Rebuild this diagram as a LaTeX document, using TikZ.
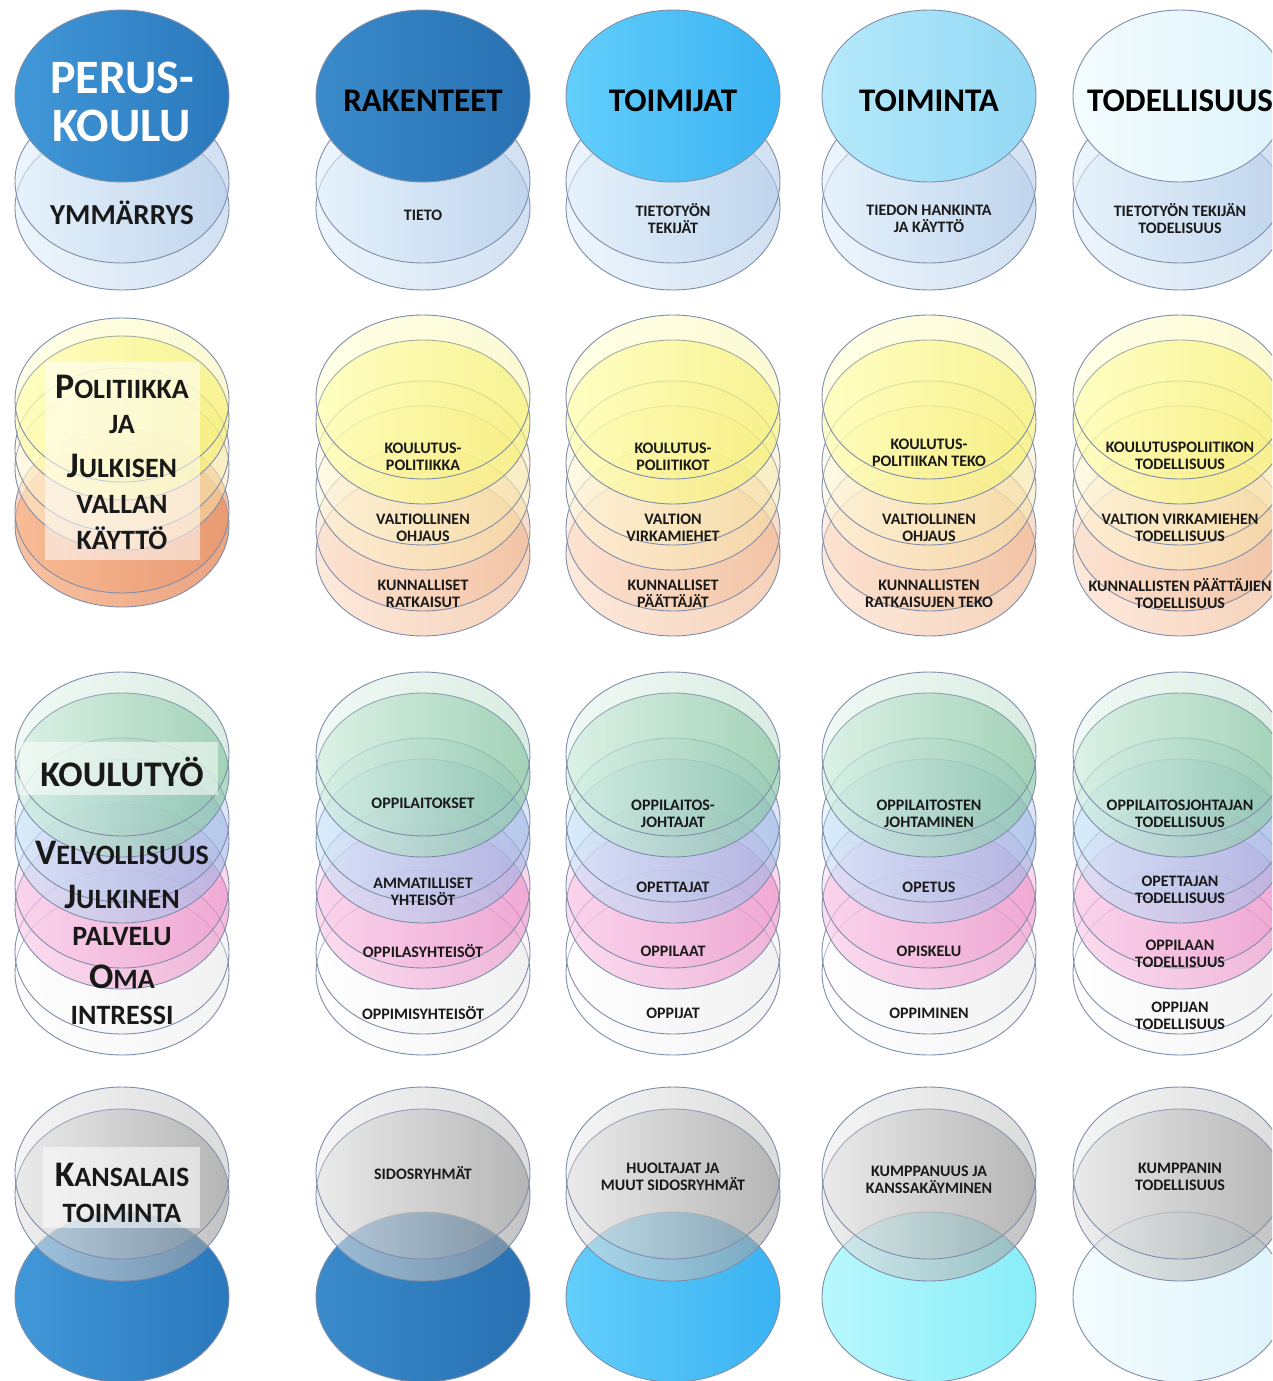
\documentclass[tikz,border=0pt]{standalone}
\usepackage{fontspec}
\setmainfont{Carlito}
\definecolor{edgec}{HTML}{7F8DAA}
\definecolor{r1l}{HTML}{E2F0FB}\definecolor{r1r}{HTML}{B4CDEA}
\definecolor{hAl}{HTML}{4198D8}\definecolor{hAr}{HTML}{2A78BC}
\definecolor{hBl}{HTML}{3A8BCB}\definecolor{hBr}{HTML}{2870B2}
\definecolor{hCl}{HTML}{62CEFB}\definecolor{hCr}{HTML}{3AB2F2}
\definecolor{hDl}{HTML}{B6E9FB}\definecolor{hDr}{HTML}{92D8F4}
\definecolor{hEl}{HTML}{F4FCFE}\definecolor{hEr}{HTML}{DDF4FB}
\definecolor{qDl}{HTML}{B8F8FD}\definecolor{qDr}{HTML}{88EDF8}
\definecolor{yl}{HTML}{FFFFB0}\definecolor{yr}{HTML}{F6F070}
\definecolor{cl}{HTML}{FFF8D8}\definecolor{cr}{HTML}{F8E6A8}
\definecolor{ol}{HTML}{FCDCC6}\definecolor{or}{HTML}{F0B48C}
\definecolor{oAl}{HTML}{F8B890}\definecolor{oAr}{HTML}{E8946A}
\definecolor{gl}{HTML}{D2EEDF}\definecolor{gr}{HTML}{86C4A2}
\definecolor{bl}{HTML}{CCE6FA}\definecolor{br}{HTML}{9EB6E6}
\definecolor{pl}{HTML}{FAC6E6}\definecolor{pr}{HTML}{EE8EC8}
\definecolor{wl}{HTML}{FFFFFF}\definecolor{wr}{HTML}{EDEDED}
\definecolor{sl}{HTML}{E4E4E4}\definecolor{sr}{HTML}{9C9C9C}
\newcommand\dsk[6]{\path[rim, left color=#4, right color=#5, fill opacity=#6] (#1,#2) ellipse [x radius=107, y radius=#3];}
\newcommand\scb[2]{{\fontsize{36}{36}\selectfont #1}{\fontsize{28}{28}\selectfont #2}}
\newcommand\scs[1]{{\fontsize{28}{28}\selectfont #1}}
\begin{document}
\begin{tikzpicture}[x=1pt,y=-1pt,
  rim/.style={draw=edgec, line width=0.9pt},
  lbl/.style={font=\fontsize{16}{17}\selectfont\bfseries, align=center, text=black!90, inner sep=0pt},
  hdrtxt/.style={font=\fontsize{33}{33}\selectfont\bfseries, text=black, inner sep=0pt},
  sidetxt/.style={font=\bfseries, text=black!90, inner sep=0pt},
  sidebox/.style={fill=white, fill opacity=0.55, draw=none},
]
\clip (0,0) rectangle (1272,1381);
\fill[white] (0,0) rectangle (1272,1381);
% ---------- row 1
\foreach \cx in {122,423,673,929,1180} {
  \dsk{\cx}{208}{82}{r1l}{r1r}{0.6}
  \dsk{\cx}{181}{82}{r1l}{r1r}{0.6}
}
\path[rim, left color=hAl, right color=hAr] (122,96) ellipse [x radius=107, y radius=86];
\path[rim, left color=hBl, right color=hBr] (423,96) ellipse [x radius=107, y radius=86];
\path[rim, left color=hCl, right color=hCr] (673,96) ellipse [x radius=107, y radius=86];
\path[rim, left color=hDl, right color=hDr] (929,96) ellipse [x radius=107, y radius=86];
\path[rim, left color=hEl, right color=hEr] (1180,96) ellipse [x radius=107, y radius=86];
% ---------- row 2
\foreach \cx in {423,673,929,1180} {
  \dsk{\cx}{554}{82}{ol}{or}{0.6}
  \dsk{\cx}{529}{82}{ol}{or}{0.45}
  \dsk{\cx}{488}{82}{cl}{cr}{0.5}
  \dsk{\cx}{463}{82}{cl}{cr}{0.35}
  \dsk{\cx}{422}{82}{yl}{yr}{0.65}
  \dsk{\cx}{397}{82}{yl}{yr}{0.3}
}
\dsk{122}{525}{82}{oAl}{oAr}{0.85}
\dsk{122}{511}{82}{oAl}{oAr}{0.6}
\dsk{122}{468}{82}{cl}{cr}{0.5}
\dsk{122}{450}{82}{cl}{cr}{0.35}
\dsk{122}{418}{82}{yl}{yr}{0.65}
\dsk{122}{400}{82}{yl}{yr}{0.3}
% ---------- row 3
\foreach \cx in {122,423,673,929,1180} {
  \dsk{\cx}{973}{82}{wl}{wr}{0.6}
  \dsk{\cx}{952}{82}{wl}{wr}{0.4}
  \dsk{\cx}{907}{82}{pl}{pr}{0.6}
  \dsk{\cx}{886}{82}{pl}{pr}{0.35}
  \dsk{\cx}{841}{82}{bl}{br}{0.6}
  \dsk{\cx}{820}{82}{bl}{br}{0.35}
  \dsk{\cx}{775}{82}{gl}{gr}{0.65}
  \dsk{\cx}{754}{82}{gl}{gr}{0.3}
}
% ---------- row 4
\path[rim, left color=hAl, right color=hAr] (122,1297) ellipse [x radius=107, y radius=85];
\path[rim, left color=hBl, right color=hBr] (423,1297) ellipse [x radius=107, y radius=85];
\path[rim, left color=hCl, right color=hCr] (673,1297) ellipse [x radius=107, y radius=85];
\path[rim, left color=qDl, right color=qDr] (929,1297) ellipse [x radius=107, y radius=85];
\path[rim, left color=hEl, right color=hEr] (1180,1297) ellipse [x radius=107, y radius=85];
\foreach \cx in {122,423,673,929,1180} {
  \dsk{\cx}{1195}{86}{sl}{sr}{0.6}
  \dsk{\cx}{1173}{86}{sl}{sr}{0.35}
}
% ---------- column 1 boxes
\fill[sidebox] (45,362) rectangle (200,560);
\fill[sidebox] (20,742) rectangle (218,795);
\fill[sidebox] (43,1147) rectangle (200,1228);
% ---------- texts row 1
\node[hdrtxt, text=white, align=center, font=\fontsize{48}{48}\selectfont\bfseries] (h1) at (122,102) {PERUS-\\KOULU};
\node[hdrtxt] (h2) at (423,101) {RAKENTEET};
\node[hdrtxt] (h3) at (673,101) {TOIMIJAT};
\node[hdrtxt] (h4) at (929,101) {TOIMINTA};
\node[hdrtxt] (h5) at (1180,101) {TODELLISUUS};
\node[sidetxt, font=\fontsize{29}{29}\selectfont\bfseries] (u1) at (122,213) {YMMÄRRYS};
\node[lbl] (u2) at (423,215) {TIETO};
\node[lbl] (u3) at (673,218.5) {TIETOTYÖN\\TEKIJÄT};
\node[lbl] (u4) at (929,218.5) {TIEDON HANKINTA\\JA KÄYTTÖ};
\node[lbl] (u5) at (1180,218.5) {TIETOTYÖN TEKIJÄN\\TODELISUUS};
% ---------- texts row 2
\node[sidetxt] (p1a) at (122,387) {\scb{P}{OLITIIKKA}};
\node[sidetxt] (p1b) at (122,425) {\scs{JA}};
\node[sidetxt] (p1c) at (122,466) {\scb{J}{ULKISEN}};
\node[sidetxt] (p1d) at (122,504) {\scs{VALLAN}};
\node[sidetxt] (p1e) at (122,538) {\scs{KÄYTTÖ}};
\node[lbl] (p2a) at (423,456.5) {KOULUTUS-\\POLITIIKKA};
\node[lbl] (p2b) at (423,527.5) {VALTIOLLINEN\\OHJAUS};
\node[lbl] (p2c) at (423,593.5) {KUNNALLISET\\RATKAISUT};
\node[lbl] (p3a) at (673,456.5) {KOULUTUS-\\POLIITIKOT};
\node[lbl] (p3b) at (673,527.5) {VALTION\\VIRKAMIEHET};
\node[lbl] (p3c) at (673,593.5) {KUNNALLISET\\PÄÄTTÄJÄT};
\node[lbl] (p4a) at (929,452.5) {KOULUTUS-\\POLITIIKAN TEKO};
\node[lbl] (p4b) at (929,527.5) {VALTIOLLINEN\\OHJAUS};
\node[lbl] (p4c) at (929,593.5) {KUNNALLISTEN\\RATKAISUJEN TEKO};
\node[lbl] (p5a) at (1180,455.5) {KOULUTUSPOLIITIKON\\TODELLISUUS};
\node[lbl] (p5b) at (1180,527.5) {VALTION VIRKAMIEHEN\\TODELLISUUS};
\node[lbl] (p5c) at (1180,593.5) {KUNNALLISTEN PÄÄTTÄJIEN\\TODELLISUUS};
% ---------- texts row 3
\node[sidetxt, font=\fontsize{36}{36}\selectfont\bfseries] (k1a) at (122,772) {KOULUTYÖ};
\node[sidetxt] (k1b) at (122,853) {\scb{V}{ELVOLLISUUS}};
\node[sidetxt] (k1c) at (122,897) {\scb{J}{ULKINEN}};
\node[sidetxt] (k1d) at (122,937) {\scs{PALVELU}};
\node[sidetxt] (k1e) at (122,977) {\scb{O}{MA}};
\node[sidetxt] (k1f) at (122,1015) {\scs{INTRESSI}};
\node[lbl] (k2a) at (423,803) {OPPILAITOKSET};
\node[lbl] (k2b) at (423,891.5) {AMMATILLISET\\YHTEISÖT};
\node[lbl] (k2c) at (423,951) {OPPILASYHTEISÖT};
\node[lbl] (k2d) at (423,1013) {OPPIMISYHTEISÖT};
\node[lbl] (k3a) at (673,813.5) {OPPILAITOS-\\JOHTAJAT};
\node[lbl] (k3b) at (673,887) {OPETTAJAT};
\node[lbl] (k3c) at (673,951) {OPPILAAT};
\node[lbl] (k3d) at (673,1013) {OPPIJAT};
\node[lbl] (k4a) at (929,813.5) {OPPILAITOSTEN\\JOHTAMINEN};
\node[lbl] (k4b) at (929,887) {OPETUS};
\node[lbl] (k4c) at (929,951) {OPISKELU};
\node[lbl] (k4d) at (929,1013) {OPPIMINEN};
\node[lbl] (k5a) at (1180,813.5) {OPPILAITOSJOHTAJAN\\TODELLISUUS};
\node[lbl] (k5b) at (1180,889.5) {OPETTAJAN\\TODELLISUUS};
\node[lbl] (k5c) at (1180,953.5) {OPPILAAN\\TODELLISUUS};
\node[lbl] (k5d) at (1180,1015.5) {OPPIJAN\\TODELLISUUS};
% ---------- texts row 4
\node[sidetxt] (s1a) at (122,1175) {\scb{K}{ANSALAIS}};
\node[sidetxt] (s1b) at (122,1213) {\scs{TOIMINTA}};
\node[lbl] (s2) at (423,1173) {SIDOSRYHMÄT};
\node[lbl] (s3) at (673,1177) {HUOLTAJAT JA\\MUUT SIDOSRYHMÄT};
\node[lbl] (s4) at (929,1179.5) {KUMPPANUUS JA\\KANSSAKÄYMINEN};
\node[lbl] (s5) at (1180,1177) {KUMPPANIN\\TODELLISUUS};
\end{tikzpicture}
\end{document}
